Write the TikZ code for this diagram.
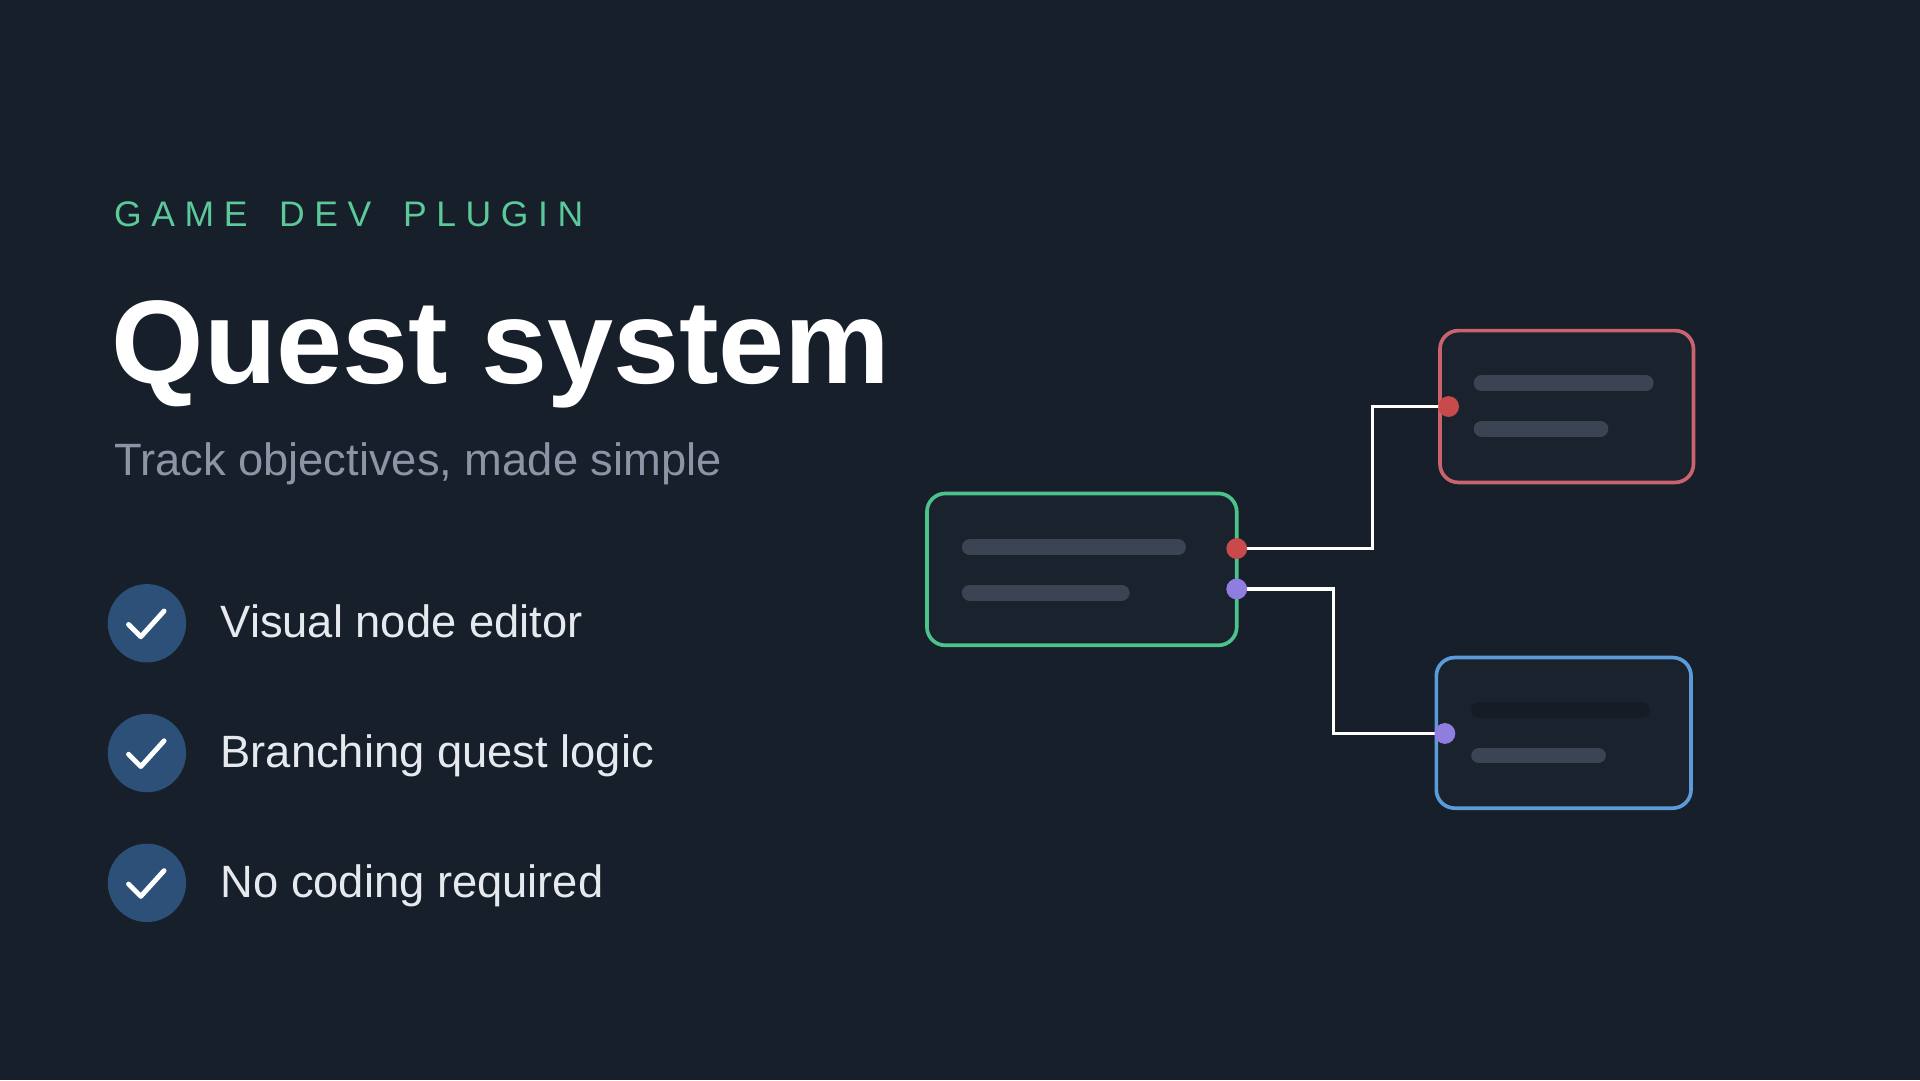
\documentclass[tikz,border=0pt]{standalone}
\usepackage{fontspec}
\setmainfont{Liberation Sans}
\newfontfamily\kick[LetterSpace=27]{Liberation Sans}
\definecolor{bg}{HTML}{161F2A}
\definecolor{kicker}{HTML}{5CC99A}
\definecolor{sub}{HTML}{8B95A5}
\definecolor{item}{HTML}{E6E9EE}
\definecolor{chk}{HTML}{2D5079}
\definecolor{cardfill}{HTML}{1A222D}
\definecolor{bar}{HTML}{3A4453}
\definecolor{bardark}{HTML}{151C25}
\definecolor{gstroke}{HTML}{4CC38A}
\definecolor{rstroke}{HTML}{C9636E}
\definecolor{bstroke}{HTML}{5B9BD9}
\definecolor{rport}{HTML}{C94A4A}
\definecolor{pport}{HTML}{8F7EE0}
\begin{document}
\begin{tikzpicture}[x=1bp,y=-1bp,
  card/.style={draw,line width=3bp,fill=cardfill,rounded corners=15bp},
  barl/.style={line width=13bp,line cap=round,draw=bar},
  port/.style={circle,inner sep=0,minimum size=17bp},
  wire/.style={draw=white,line width=2.5bp},
  check/.style={circle,fill=chk,inner sep=0,minimum size=64bp},
  itemtxt/.style={anchor=base west,text=item,font=\fontsize{37bp}{40bp}\selectfont,inner sep=0}]
\fill[bg] (0,0) rectangle (1568,882);
\useasboundingbox (0,0) rectangle (1568,882);
\node[anchor=base west,inner sep=0,text=kicker,font=\kick\fontsize{29bp}{32bp}\selectfont] (k) at (93,185) {GAME\hspace{10bp} DEV\hspace{10bp} PLUGIN};
\node[anchor=base west,inner sep=0,text=white,font=\bfseries\fontsize{97bp}{100bp}\selectfont] (t) at (91,313) {Quest system};
\node[anchor=base west,inner sep=0,text=sub,font=\fontsize{37bp}{40bp}\selectfont] (s) at (93,388) {Track objectives, made simple};
\foreach \y/\n/\txt in {509/a/Visual node editor,615/b/Branching quest logic,721/c/No coding required}{
  \node[check] (c\n) at (120,\y) {};
  \draw[white,line width=4bp,line cap=round,line join=round] (105,\y) ++(0,1) -- ++(10,10) -- ++(19,-21);
  \node[itemtxt] (i\n) at (180,\y+12) {\txt};
}
% cards
\draw[card,draw=gstroke] (757,403) rectangle (1010,527);
\draw[barl] (792,447) -- (962,447);
\draw[barl] (792,484) -- (916,484);
\draw[card,draw=rstroke] (1176,270) rectangle (1383,394);
\draw[barl] (1210,313) -- (1344,313);
\draw[barl] (1210,350) -- (1307,350);
\draw[card,draw=bstroke] (1173,537) rectangle (1381,660);
\draw[barl,draw=bardark] (1208,580) -- (1341,580);
\draw[barl] (1208,617) -- (1305,617);
% ports
\node[port] (p1) at (1010,448) {};
\node[port] (p2) at (1010,481) {};
\node[port] (p3) at (1183,332) {};
\node[port] (p4) at (1180,599) {};
\draw[wire] (p1.center) -| (1121,332) -- (p3.center);
\draw[wire] (p2.center) -| (1089,599) -- (p4.center);
\fill[rport] (p1) circle (8.5bp);
\fill[pport] (p2) circle (8.5bp);
\fill[rport] (p3) circle (8.5bp);
\fill[pport] (p4) circle (8.5bp);
\end{tikzpicture}
\end{document}
